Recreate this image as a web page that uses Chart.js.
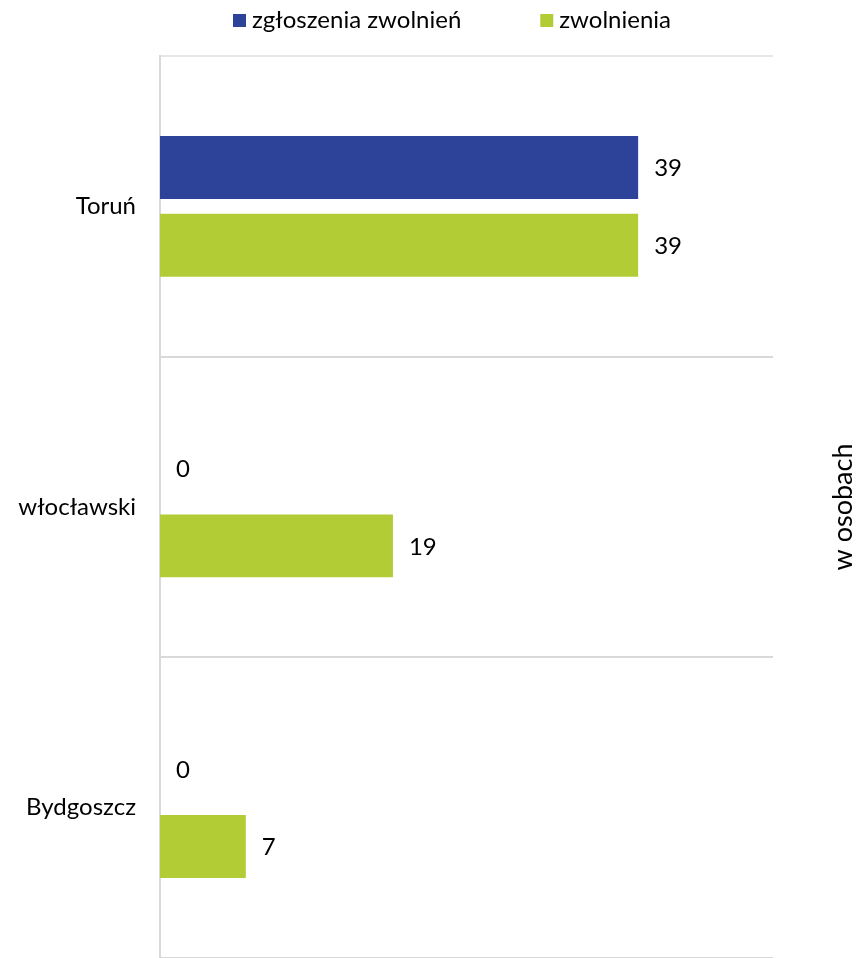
<!DOCTYPE html>
<html lang="pl">
<head>
<meta charset="utf-8">
<title>Zwolnienia</title>
<script src="https://cdn.jsdelivr.net/npm/chart.js@4"></script>
<style>
  body { margin: 0; background: #fff; }
  #wrap { position: relative; width: 856px; height: 958px; }
</style>
</head>
<body>
<div id="wrap"><canvas id="zwolnieniaChart"></canvas></div>
<script>
const kategorie = ['Toruń', 'włocławski', 'Bydgoszcz'];
const zgloszenia = [39, 0, 0];
const zwolnienia = [39, 19, 7];
const nazwySerii = ['zgłoszenia zwolnień', 'zwolnienia'];
const kolory = ['#2d4399', '#b2cc35'];
const tytulOsi = 'w osobach';
const osX = { min: 0, max: 50 };

const font = 'Lato, "Open Sans", sans-serif';

// legenda rysowana recznie, bo odstep miedzy pozycjami jest duzy
const legendaPlugin = {
    id: 'legenda',
    afterDraw(chart) {
        const ctx = chart.ctx;
        ctx.save();
        ctx.font = '24px ' + font;
        ctx.textBaseline = 'middle';
        let x = 233;
        const y = 20;
        nazwySerii.forEach((nazwa, i) => {
            ctx.fillStyle = kolory[i];
            ctx.fillRect(x, y - 6, 13, 13);
            ctx.fillStyle = '#000';
            ctx.fillText(nazwa, x + 19, y);
            x += 19 + ctx.measureText(nazwa).width + 79;
        });
        ctx.restore();
    }
};

// wartosci obok slupkow
const etykietyPlugin = {
    id: 'etykiety',
    afterDatasetsDraw(chart) {
        const ctx = chart.ctx;
        ctx.save();
        ctx.font = '24px ' + font;
        ctx.fillStyle = '#000';
        ctx.textAlign = 'left';
        ctx.textBaseline = 'middle';
        chart.data.datasets.forEach((ds, i) => {
            chart.getDatasetMeta(i).data.forEach((bar, j) => {
                ctx.fillText(String(ds.data[j]), bar.x + 16, bar.y + 1);
            });
        });
        ctx.restore();
    }
};

// tytul osi po prawej stronie, czytany od dolu
const tytulPlugin = {
    id: 'tytulOsi',
    afterDraw(chart) {
        const {ctx, chartArea} = chart;
        ctx.save();
        ctx.font = '27px ' + font;
        ctx.fillStyle = '#000';
        ctx.textAlign = 'center';
        ctx.textBaseline = 'middle';
        ctx.translate(chartArea.right + 70, (chartArea.top + chartArea.bottom) / 2);
        ctx.rotate(-Math.PI / 2);
        ctx.fillText(tytulOsi, 0, 0);
        ctx.restore();
    }
};

const ctx = document.getElementById('zwolnieniaChart').getContext('2d');
const zwolnieniaChart = new Chart(ctx, {
    type: 'bar',
    data: {
        labels: kategorie,
        datasets: [
            {
                label: nazwySerii[0],
                data: zgloszenia,
                backgroundColor: kolory[0],
                categoryPercentage: 0.517,
                barPercentage: 0.81
            },
            {
                label: nazwySerii[1],
                data: zwolnienia,
                backgroundColor: kolory[1],
                categoryPercentage: 0.517,
                barPercentage: 0.81
            }
        ]
    },
    options: {
        indexAxis: 'y',
        responsive: true,
        maintainAspectRatio: false,
        animation: false,
        layout: {
            padding: { top: 56, right: 83, bottom: -4, left: 0 }
        },
        plugins: {
            legend: { display: false },
            tooltip: { enabled: false }
        },
        scales: {
            x: {
                display: false,
                min: osX.min,
                max: osX.max
            },
            y: {
                afterFit: scale => {
                    scale.width = 160;
                    scale.paddingTop = 0;
                    scale.paddingBottom = -4;
                },
                grid: {
                    color: c => c.index === 0 ? '#e6e6e6' : '#d9d9d9',
                    lineWidth: 2,
                    drawTicks: false
                },
                border: { color: '#d9d9d9', width: 2 },
                ticks: {
                    padding: 24,
                    color: '#000',
                    font: { family: font, size: 24 }
                }
            }
        }
    },
    plugins: [legendaPlugin, etykietyPlugin, tytulPlugin]
});
</script>
</body>
</html>
